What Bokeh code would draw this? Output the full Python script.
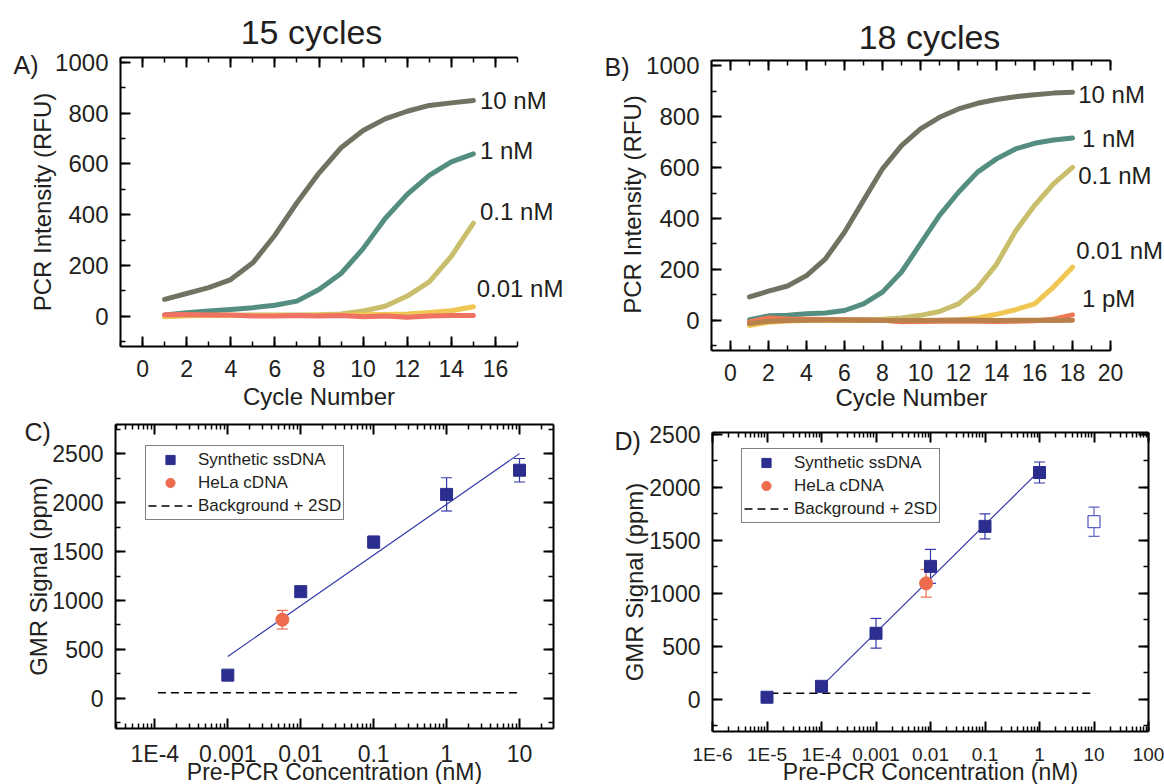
import math
from bokeh.plotting import figure
from bokeh.models import (LinearAxis, LogAxis, FixedTicker, SingleIntervalTicker, Label,
                          Legend, LegendItem, Whisker, ColumnDataSource, TeeHead,
                          CustomJSTickFormatter)
from bokeh.layouts import column, row
from bokeh.embed import file_html
from bokeh.resources import INLINE

FONT = "Liberation Sans"
TXT = "#231F20"

# ---------------- data: panel A (15 cycles) ----------------
cycles_a = list(range(1, 16))
a_10nM = [66, 89, 112, 144, 210, 319, 447, 564, 664, 732, 778, 808, 831, 841, 850]
a_1nM = [4, 13, 20, 26, 33, 43, 59, 105, 168, 266, 385, 480, 555, 608, 640]
a_01nM = [-3, 2, 3, 3, 4, 4, 4, 5, 8, 20, 39, 79, 135, 236, 367]
a_001nM = [-2, 1, 2, 2, 2, 2, 2, 3, 4, 5, 6, 8, 14, 21, 37]
a_ctrl = [5, 6, 4, 4, 0, 0, 2, 0, 2, -3, 0, -5, 0, 2, 2]
a_labels = ["10 nM", "1 nM", "0.1 nM", "0.01 nM"]
a_label_y = [850, 654, 411, 110]
a_label_x = [15.3, 15.3, 15.3, 15.15]

# ---------------- data: panel B (18 cycles) ----------------
cycles_b = list(range(1, 19))
b_10nM = [92, 115, 135, 176, 242, 346, 471, 595, 686, 752, 797, 830, 852, 867, 878, 886, 892, 895]
b_1nM = [3, 18, 20, 26, 29, 39, 65, 111, 190, 301, 412, 503, 582, 634, 673, 695, 708, 716]
b_01nM = [-10, -3, 3, 3, 3, 3, 3, 5, 10, 20, 35, 65, 128, 220, 350, 451, 536, 601]
b_001nM = [-20, -7, -2, 0, 0, 0, 0, 0, 0, -2, 0, 2, 10, 24, 42, 65, 131, 209]
b_1pM = [-5, 10, 6, 5, 4, 3, 2, 1, -5, -4, -3, -2, -3, -4, -3, -1, 5, 22]
b_ctrl = [-12, -3, 0, 1, 2, 2, 1, 0, 0, 0, 1, 2, 1, 0, 1, 1, 0, 1]
b_labels = ["10 nM", "1 nM", "0.1 nM", "0.01 nM", "1 pM"]
b_label_y = [886, 712, 569, 275, 85]
b_label_x = [18.3, 18.5, 18.3, 18.2, 18.5]

# ---------------- data: panel C ----------------
c_conc = [0.001, 0.01, 0.1, 1, 10]
c_signal = [236, 1090, 1597, 2085, 2332]
c_err = [20, 20, 60, 170, 120]
c_hela_conc = [0.0056]
c_hela = [803]
c_hela_err = [95]
c_fit_x = [0.001, 10]
c_fit_y = [427, 2502]
c_bg_x = [1.1e-4, 10]
c_bg = 55
c_tick_vals = [1e-4, 1e-3, 1e-2, 1e-1, 1, 10]
c_tick_labels = ["1E-4", "0.001", "0.01", "0.1", "1", "10"]

# ---------------- data: panel D ----------------
d_conc = [1e-5, 1e-4, 0.001, 0.01, 0.1, 1]
d_signal = [19, 122, 622, 1253, 1630, 2138]
d_err = [10, 10, 140, 160, 118, 99]
d_open_conc = [10]
d_open = [1674]
d_open_err = [138]
d_hela_conc = [0.0083]
d_hela = [1093]
d_hela_err = [130]
d_fit_x = [1e-4, 1]
d_fit_y = [122, 2154]
d_bg_x = [1.15e-5, 10]
d_bg = 56
d_tick_vals = [1e-6, 1e-5, 1e-4, 1e-3, 1e-2, 1e-1, 1, 10, 100]
d_tick_labels = ["1E-6", "1E-5", "1E-4", "0.001", "0.01", "0.1", "1", "10", "100"]

legend_labels = ["Synthetic ssDNA", "HeLa cDNA", "Background + 2SD"]

# colours
C10 = "#6F7361"
C1 = "#548E80"
C01 = "#C9BE6C"
C001 = "#F0C752"
CRED = "#F07263"
C1PM = "#EE7A55"
CBROWN = "#B8804B"
NAVY = "#2B2E8E"
FITC = "#3338A8"
ORANGE = "#EE6B4E"
OPENC = "#5C62C6"


# ---------------- helpers ----------------
def ext_range(lo, hi, p_lo, p_hi, c_lo, c_hi, log=False):
    """Extend data range [lo, hi] (drawn between pixels p_lo..p_hi) to the canvas c_lo..c_hi."""
    if log:
        lo, hi = math.log10(lo), math.log10(hi)
    s = (hi - lo) / (p_hi - p_lo)
    a = lo + (c_lo - p_lo) * s
    b = lo + (c_hi - p_lo) * s
    if log:
        return 10 ** a, 10 ** b
    return a, b


class Panel:
    def __init__(self, cx, cy, w, h, box, xlim, ylim, xlog=False):
        # cx, cy: canvas top-left on page; box: (left, right, top, bottom) page px of axes box
        self.cx, self.cy, self.w, self.h = cx, cy, w, h
        l, r, t, b = box
        xr = ext_range(xlim[0], xlim[1], l, r, cx, cx + w, log=xlog)
        yr = ext_range(ylim[0], ylim[1], b, t, cy + h, cy, log=False)
        self.xlim, self.ylim = xlim, ylim
        self.p = figure(width=w, height=h, x_range=xr, y_range=yr,
                        x_axis_type="log" if xlog else "linear", title=None,
                        output_backend="svg", toolbar_location=None, min_border=0,
                        min_border_left=0, min_border_right=0, min_border_top=0,
                        min_border_bottom=0)
        p = self.p
        p.outline_line_color = None
        p.grid.visible = False
        p.background_fill_color = "white"
        p.border_fill_color = "white"

    def text(self, ax, ay, text, size, align="left", angle=0.0):
        # (ax, ay): page position of the text's middle line
        self.p.add_layout(Label(x=ax - self.cx, y=self.cy + self.h - ay, x_units="screen",
                                y_units="screen", text=text, text_font=FONT,
                                text_font_size=size, text_color=TXT, text_align=align,
                                text_baseline="middle", angle=angle))


def style_axis(ax, size="23px"):
    ax.axis_line_width = 2
    ax.axis_line_color = "black"
    ax.major_tick_line_width = 2
    ax.minor_tick_line_width = 1.5
    ax.major_tick_line_color = "black"
    ax.minor_tick_line_color = "black"
    ax.major_tick_in = 10
    ax.major_tick_out = 0
    ax.minor_tick_in = 5
    ax.minor_tick_out = 0
    ax.major_label_text_font = FONT
    ax.major_label_text_font_size = size
    ax.major_label_text_color = TXT


def blank_axis(ax):
    style_axis(ax)
    ax.formatter = CustomJSTickFormatter(code="return '';")
    ax.major_label_text_font_size = "0px"
    ax.major_label_standoff = 0


def log_formatter(vals, labs):
    return CustomJSTickFormatter(args=dict(vals=vals, labs=labs), code="""
        for (let i = 0; i < vals.length; i++) {
            if (Math.abs(Math.log10(vals[i]) - Math.log10(tick)) < 1e-6) return labs[i];
        }
        return '';
    """)


def minor_log(lo_exp, hi_exp, lo, hi):
    return [m * 10.0 ** k for k in range(lo_exp, hi_exp + 1) for m in range(2, 10)
            if lo <= m * 10.0 ** k <= hi]


def setup_linear_axes(P, xint, yint):
    p = P.p
    x0, x1 = P.xlim
    y0, y1 = P.ylim
    bx = p.xaxis[0]
    style_axis(bx)
    bx.ticker = SingleIntervalTicker(interval=xint, num_minor_ticks=2)
    bx.fixed_location = y0
    bx.bounds = (x0, x1)
    bx.major_label_standoff = 13
    ly = p.yaxis[0]
    style_axis(ly, "24px")
    ly.ticker = SingleIntervalTicker(interval=yint, num_minor_ticks=2)
    ly.fixed_location = x0
    ly.bounds = (y0, y1)
    ly.major_label_standoff = 12
    top = LinearAxis(ticker=SingleIntervalTicker(interval=xint, num_minor_ticks=2),
                     fixed_location=y1, bounds=(x0, x1))
    blank_axis(top)
    p.add_layout(top, "above")


TOP_H = 414

# ================= Panel A =================
A = Panel(0, 0, 590, TOP_H, (120, 517, 57, 346), (-1, 17), (-120, 1020))
setup_linear_axes(A, 2, 200)
pA = A.p
for ys, c in [(a_10nM, C10), (a_1nM, C1), (a_01nM, C01), (a_001nM, C001), (a_ctrl, CRED)]:
    pA.line(cycles_a, ys, line_width=5, line_color=c, line_cap="round", line_join="round")
for t, xv, yv in zip(a_labels, a_label_x, a_label_y):
    pA.add_layout(Label(x=xv, y=yv, text=t, text_font=FONT, text_font_size="24px",
                        text_color=TXT, text_baseline="middle", text_align="left"))
A.text(311, 31, "15 cycles", "34px", align="center")
A.text(13, 64, "A)", "25px")
A.text(318.5, 395.5, "Cycle Number", "24px", align="center")
A.text(42, 201.5, "PCR Intensity (RFU)", "24px", align="center", angle=math.pi / 2)

# ================= Panel B =================
B = Panel(590, 0, 574, TOP_H, (711, 1110, 60, 350), (-1, 20), (-118, 1020))
setup_linear_axes(B, 2, 200)
pB = B.p
for ys, c in [(b_10nM, C10), (b_1nM, C1), (b_01nM, C01), (b_001nM, C001),
              (b_1pM, C1PM), (b_ctrl, CBROWN)]:
    pB.line(cycles_b, ys, line_width=5, line_color=c, line_cap="round", line_join="round")
for t, xv, yv in zip(b_labels, b_label_x, b_label_y):
    pB.add_layout(Label(x=xv, y=yv, text=t, text_font=FONT, text_font_size="24px",
                        text_color=TXT, text_baseline="middle", text_align="left"))
B.text(929, 36, "18 cycles", "34px", align="center")
B.text(604, 66, "B)", "25px")
B.text(911, 397, "Cycle Number", "24px", align="center")
B.text(632, 204, "PCR Intensity (RFU)", "24px", align="center", angle=math.pi / 2)


# ================= Panels C / D =================
def gmr_panel(P, tick_vals, tick_labels, minor, conc, sig, err, hela_x, hela_y, hela_e,
              fit_x, fit_y, bg_x, bg_y, legend_loc, xtick_size,
              open_x=None, open_y=None, open_e=None):
    p = P.p
    x0, x1 = P.xlim
    y0, y1 = P.ylim
    bx = p.xaxis[0]
    style_axis(bx, xtick_size)
    bx.ticker = FixedTicker(ticks=tick_vals, minor_ticks=minor)
    bx.formatter = log_formatter(tick_vals, tick_labels)
    bx.fixed_location = y0
    bx.bounds = (x0, x1)
    bx.major_label_standoff = 12
    ly = p.yaxis[0]
    style_axis(ly)
    ly.ticker = SingleIntervalTicker(interval=500, num_minor_ticks=2)
    ly.fixed_location = x0
    ly.bounds = (y0, y1)
    ly.major_label_standoff = 12
    top = LogAxis(ticker=FixedTicker(ticks=tick_vals, minor_ticks=minor),
                  fixed_location=y1, bounds=(x0, x1))
    blank_axis(top)
    p.add_layout(top, "above")
    right = LinearAxis(ticker=SingleIntervalTicker(interval=500, num_minor_ticks=2),
                       fixed_location=x1, bounds=(y0, y1))
    blank_axis(right)
    p.add_layout(right, "right")

    r_bg = p.line(bg_x, [bg_y, bg_y], line_color="black", line_width=1.5, line_dash="8 5")
    p.line(fit_x, fit_y, line_color=FITC, line_width=1.2)

    def whisk(xs, ys, es, col):
        src = ColumnDataSource(dict(x=xs, lo=[s - e for s, e in zip(ys, es)],
                                    hi=[s + e for s, e in zip(ys, es)]))
        w = Whisker(source=src, base="x", lower="lo", upper="hi", line_color=col, line_width=1.2,
                    upper_head=TeeHead(size=11, line_color=col, line_width=1.2),
                    lower_head=TeeHead(size=11, line_color=col, line_width=1.2),
                    level="underlay")
        p.add_layout(w)

    whisk(conc, sig, err, FITC)
    whisk(hela_x, hela_y, hela_e, ORANGE)
    if open_x is not None:
        whisk(open_x, open_y, open_e, OPENC)
        p.scatter(open_x, open_y, marker="square", size=12, fill_color="white",
                  line_color=OPENC, line_width=1.3)

    r_sq = p.scatter(conc, sig, marker="square", size=12, fill_color=NAVY, line_color=NAVY)
    r_ci = p.scatter(hela_x, hela_y, marker="circle", size=13, fill_color=ORANGE,
                     line_color=ORANGE)

    leg = Legend(items=[LegendItem(label=legend_labels[0], renderers=[r_sq]),
                        LegendItem(label=legend_labels[1], renderers=[r_ci]),
                        LegendItem(label=legend_labels[2], renderers=[r_bg])],
                 location=legend_loc)
    leg.border_line_color = "black"
    leg.border_line_width = 1.5
    leg.background_fill_color = "white"
    leg.background_fill_alpha = 1
    leg.label_text_font = FONT
    leg.label_text_font_size = "17px"
    leg.label_text_color = TXT
    leg.glyph_width = 44
    leg.glyph_height = 23
    leg.label_height = 23
    leg.label_standoff = 6
    leg.padding = 2
    leg.spacing = 0
    leg.margin = 0
    p.add_layout(leg)


BOT_Y = TOP_H
BOT_H = 784 - TOP_H

c_xlim = (10 ** -4.54, 10 ** 1.466)
C = Panel(0, BOT_Y, 590, BOT_H, (115, 553, 424, 728), c_xlim, (-310, 2800), xlog=True)
gmr_panel(C, c_tick_vals, c_tick_labels, minor_log(-5, 1, *c_xlim), c_conc, c_signal, c_err,
          c_hela_conc, c_hela, c_hela_err, c_fit_x, c_fit_y, c_bg_x, c_bg,
          (145 - 0, 784 - 520), "23px")
C.text(24, 431, "C)", "25px")
C.text(334, 771, "Pre-PCR Concentration (nM)", "23px", align="center")
C.text(37.5, 576, "GMR Signal (ppm)", "24px", align="center", angle=math.pi / 2)

d_xlim = (1e-6, 100)
D = Panel(590, BOT_Y, 574, BOT_H, (712, 1148, 432, 731), d_xlim, (-304, 2515), xlog=True)
gmr_panel(D, d_tick_vals, d_tick_labels, minor_log(-6, 1, *d_xlim), d_conc, d_signal, d_err,
          d_hela_conc, d_hela, d_hela_err, d_fit_x, d_fit_y, d_bg_x, d_bg,
          (741 - 590, 784 - 523), "19px", open_x=d_open_conc, open_y=d_open, open_e=d_open_err)
D.text(614, 440, "D)", "25px")
D.text(930, 771, "Pre-PCR Concentration (nM)", "23px", align="center")
D.text(634, 581.5, "GMR Signal (ppm)", "24px", align="center", angle=math.pi / 2)

layout = column(row(A.p, B.p), row(C.p, D.p))
open("out.html", "w").write(file_html(layout, INLINE))
